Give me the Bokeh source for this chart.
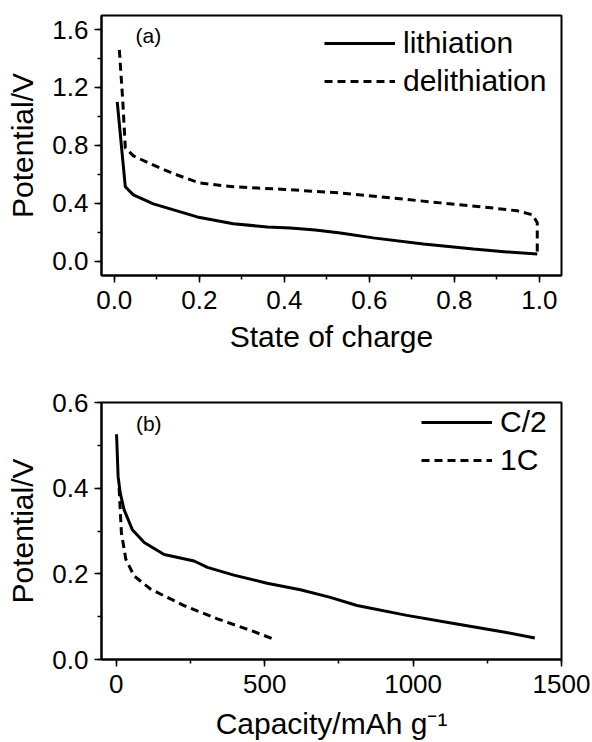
from bokeh.plotting import figure
from bokeh.layouts import column
from bokeh.models import SingleIntervalTicker, PrintfTickFormatter, Range1d, Label
from bokeh.embed import file_html
from bokeh.resources import INLINE

# ---- Data: panel (a) ----
soc_lith = [0.007, 0.026, 0.045, 0.092, 0.195, 0.28, 0.36, 0.414, 0.473, 0.532, 0.609, 0.727, 0.845, 0.924, 0.995]
pot_lith = [1.10, 0.513, 0.457, 0.395, 0.305, 0.257, 0.236, 0.229, 0.215, 0.194, 0.160, 0.118, 0.083, 0.063, 0.049]
soc_delith = [0.012, 0.020, 0.026, 0.045, 0.085, 0.14, 0.20, 0.28, 0.40, 0.532, 0.649, 0.767, 0.885, 0.948, 0.984, 0.995, 0.995, 0.995]
pot_delith = [1.46, 1.108, 0.783, 0.727, 0.672, 0.603, 0.54, 0.513, 0.495, 0.471, 0.437, 0.402, 0.368, 0.347, 0.319, 0.264, 0.187, 0.05]

# ---- Data: panel (b) ----
cap_c2 = [0.7, 6, 13, 26, 54, 94, 161, 262, 307, 396, 508, 620, 721, 811, 979, 1147, 1315, 1410]
pot_c2 = [0.526, 0.427, 0.389, 0.350, 0.303, 0.273, 0.245, 0.230, 0.215, 0.197, 0.178, 0.163, 0.145, 0.126, 0.103, 0.083, 0.063, 0.050]
cap_1c = [9.4, 17, 32, 60, 116, 228, 340, 452, 525]
pot_1c = [0.40, 0.296, 0.234, 0.195, 0.164, 0.126, 0.095, 0.068, 0.049]

FONT = "Liberation Sans"


def style(p, xlabel_standoff):
    p.outline_line_color = "black"
    p.outline_line_width = 2
    p.xgrid.visible = False
    p.ygrid.visible = False
    for ax in (p.xaxis[0], p.yaxis[0]):
        ax.axis_line_width = 2
        ax.axis_line_color = "black"
        ax.major_tick_line_width = 1.5
        ax.minor_tick_line_width = 1.5
        ax.major_tick_line_color = "black"
        ax.minor_tick_line_color = "black"
        ax.major_tick_in = 0
        ax.major_tick_out = 7
        ax.minor_tick_in = 0
        ax.minor_tick_out = 4
        ax.major_label_text_font = FONT
        ax.major_label_text_font_size = "26px"
        ax.major_label_text_color = "black"
        ax.axis_label_text_font = FONT
        ax.axis_label_text_font_size = "30px"
        ax.axis_label_text_font_style = "normal"
        ax.axis_label_text_color = "black"
    p.xaxis[0].major_label_standoff = 8
    p.yaxis[0].major_label_standoff = 6
    p.xaxis[0].axis_label_standoff = xlabel_standoff
    p.yaxis[0].axis_label_standoff = 10


def style_legend(p, margin, label_width):
    lg = p.legend[0]
    lg.location = "top_right"
    lg.border_line_color = None
    lg.background_fill_alpha = 0
    lg.label_text_font = FONT
    lg.label_text_font_size = "30px"
    lg.label_text_color = "black"
    lg.glyph_width = 71
    lg.glyph_height = 30
    lg.label_height = 30
    lg.label_width = label_width
    lg.label_standoff = 8
    lg.spacing = 4
    lg.margin = margin
    lg.padding = 10


# ---- Panel (a) ----
p1 = figure(width=592, height=378, output_backend="svg", toolbar_location=None,
            x_range=Range1d(-0.03, 1.052), y_range=Range1d(-0.1, 1.697),
            min_border_left=101, min_border_right=31, min_border_top=15, min_border_bottom=103)
p1.line(soc_lith, pot_lith, line_color="black", line_width=3, legend_label="lithiation")
p1.line(soc_delith, pot_delith, line_color="black", line_width=3, line_dash="8 5",
        legend_label="delithiation")
p1.xaxis.ticker = SingleIntervalTicker(interval=0.2, num_minor_ticks=2)
p1.yaxis.ticker = SingleIntervalTicker(interval=0.4, num_minor_ticks=2)
p1.xaxis.formatter = PrintfTickFormatter(format="%.1f")
p1.yaxis.formatter = PrintfTickFormatter(format="%.1f")
p1.xaxis.axis_label = "State of charge"
p1.yaxis.axis_label = "Potential/V"
style(p1, 8)
style_legend(p1, 11, 147)
p1.add_layout(Label(x=0.05, y=1.56, text="(a)", text_font=FONT, text_font_size="21px",
                    text_baseline="middle", text_color="black"))

# ---- Panel (b) ----
p2 = figure(width=592, height=364, output_backend="svg", toolbar_location=None,
            x_range=Range1d(-50, 1500), y_range=Range1d(0, 0.6001),
            min_border_left=101, min_border_right=31, min_border_top=24, min_border_bottom=81)
p2.line(cap_c2, pot_c2, line_color="black", line_width=3, legend_label="C/2")
p2.line(cap_1c, pot_1c, line_color="black", line_width=3, line_dash="8 5", legend_label="1C")
p2.xaxis.ticker = SingleIntervalTicker(interval=500, num_minor_ticks=2)
p2.yaxis.ticker = SingleIntervalTicker(interval=0.2, num_minor_ticks=2)
p2.xaxis.formatter = PrintfTickFormatter(format="%d")
p2.yaxis.formatter = PrintfTickFormatter(format="%.1f")
p2.xaxis.axis_label = "Capacity/mAh g\u207b\u00b9"
p2.yaxis.axis_label = "Potential/V"
style(p2, 11)
style_legend(p2, 3, 58)
p2.add_layout(Label(x=66, y=0.551, text="(b)", text_font=FONT, text_font_size="21px",
                    text_baseline="middle", text_color="black"))

layout = column(p1, p2, spacing=0)
open("out.html", "w").write(file_html(layout, INLINE))
